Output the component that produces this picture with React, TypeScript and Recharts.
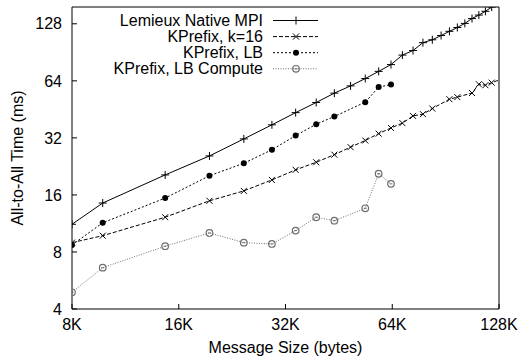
import React from 'react';
import { LineChart, Line, XAxis, YAxis, Legend } from 'recharts';

const FONT = '"Liberation Sans", Arial, Helvetica, sans-serif';

const xTicks = [8192, 16384, 32768, 65536, 131072];
const xTickLabels = ['8K', '16K', '32K', '64K', '128K'];
const yTicks = [4, 8, 16, 32, 64, 128];

const lemieuxSizes = [8192, 10000, 15000, 20000, 25000, 30000, 35000, 40000, 45000, 50000, 55000, 60000, 65000, 70000, 75000, 80000, 85000, 90000, 95000, 100000, 105000, 110000, 115000, 120000, 125000];
const lemieuxTimes = [11.2, 14.5, 20.4, 25.7, 31.6, 37.5, 43.5, 49.2, 55.1, 60.2, 65.8, 71.8, 78.0, 87.5, 92.5, 101.8, 105.4, 111.0, 116.8, 122.4, 128.6, 136.4, 142.3, 149.0, 156.8];

const k16Sizes = [8192, 10000, 15000, 20000, 25000, 30000, 35000, 40000, 45000, 50000, 55000, 60000, 65000, 70000, 75000, 80000, 85000, 95000, 100000, 110000, 115000, 120000, 125000, 135000];
const k16Times = [8.96, 9.75, 12.2, 14.9, 16.8, 19.2, 21.7, 23.8, 26.1, 28.6, 31.0, 33.7, 36.1, 38.3, 41.8, 42.7, 45.7, 51.2, 52.5, 55.2, 61.4, 60.7, 62.6, 65.9];

const lbSizes = [8192, 10000, 15000, 20000, 25000, 30000, 35000, 40000, 45000, 55000, 60000, 65000];
const lbTimes = [8.71, 11.4, 15.4, 20.2, 23.5, 27.7, 32.9, 37.8, 41.5, 49.4, 59.3, 61.2];

const lbcSizes = [8192, 10000, 15000, 20000, 25000, 30000, 35000, 40000, 45000, 55000, 60000, 65000];
const lbcTimes = [4.90, 6.61, 8.58, 10.08, 8.96, 8.82, 10.37, 12.2, 11.7, 13.6, 20.7, 18.3];

const seriesNames = ['Lemieux Native MPI', 'KPrefix, k=16', 'KPrefix, LB', 'KPrefix, LB Compute'];

const zip = (xs: number[], ys: number[]) => xs.map((x, i) => ({ x, t: ys[i] }));
const lemieuxData = zip(lemieuxSizes, lemieuxTimes);
const k16Data = zip(k16Sizes, k16Times);
const lbData = zip(lbSizes, lbTimes);
const lbcData = zip(lbcSizes, lbcTimes);

const GRAY = '#6e6e6e';

const Marker = ({ kind, cx, cy }: { kind: string; cx: number; cy: number }) => {
  if (cx == null || cy == null || isNaN(cx) || isNaN(cy)) return null;
  if (kind === 'plus') {
    return (
      <g>
        <line x1={cx - 4} x2={cx + 4} y1={cy} y2={cy} stroke="#000" strokeWidth={1} />
        <line x1={cx} x2={cx} y1={cy - 4} y2={cy + 4} stroke="#000" strokeWidth={1} />
      </g>
    );
  }
  if (kind === 'cross') {
    return (
      <g>
        <line x1={cx - 3} x2={cx + 3} y1={cy - 3} y2={cy + 3} stroke="#000" strokeWidth={1} />
        <line x1={cx - 3} x2={cx + 3} y1={cy + 3} y2={cy - 3} stroke="#000" strokeWidth={1} />
      </g>
    );
  }
  if (kind === 'dot') {
    return <circle cx={cx} cy={cy} r={3} fill="#000" stroke="none" />;
  }
  return (
    <g>
      <circle cx={cx} cy={cy} r={3.3} fill="none" stroke={GRAY} strokeWidth={1.2} />
      <line x1={cx - 1.5} x2={cx + 1.5} y1={cy} y2={cy} stroke={GRAY} strokeWidth={1} />
    </g>
  );
};

const makeDot = (kind: string) => (p: any) => (
  <Marker key={`${kind}-${p.index}`} kind={kind} cx={p.cx} cy={p.cy} />
);

const legendStyles = [
  { kind: 'plus', color: '#000', dash: undefined },
  { kind: 'cross', color: '#000', dash: '4 2' },
  { kind: 'dot', color: '#000', dash: '2 2' },
  { kind: 'circle', color: GRAY, dash: '1 1.5' },
];

const LegendContent = () => (
  <svg width={519} height={80} style={{ display: 'block' }}>
    {seriesNames.map((name, i) => {
      const y = 20.5 + i * 16.1;
      const st = legendStyles[i];
      return (
        <g key={name}>
          <text x={263} y={y} dy="0.35em" textAnchor="end" fontFamily={FONT} fontSize={16} fill="#000">
            {name}
          </text>
          <line x1={273} x2={318} y1={y} y2={y} stroke={st.color} strokeWidth={1} strokeDasharray={st.dash} />
          <Marker kind={st.kind} cx={296} cy={y} />
        </g>
      );
    })}
  </svg>
);

const tickStyle = { fill: '#000', fontSize: 16, fontFamily: FONT };

export default function App() {
  return (
    <div style={{ position: 'fixed', left: 0, top: 0, width: 519, height: 358, background: '#fff' }}>
      <LineChart width={519} height={358} margin={{ top: 0, right: 0, bottom: 0, left: 0 }}>
        <XAxis
          xAxisId="b"
          type="number"
          dataKey="x"
          scale="log"
          domain={[8192, 131072]}
          allowDataOverflow
          ticks={xTicks}
          interval={0}
          tickFormatter={(v: number) => xTickLabels[xTicks.indexOf(v)] ?? ''}
          height={49}
          tickSize={-5}
          tickMargin={15}
          stroke="#000"
          tick={tickStyle}
          label={{
            value: 'Message Size (bytes)',
            position: 'insideBottom',
            offset: 5,
            style: { fill: '#000', fontSize: 16, fontFamily: FONT },
          }}
        />
        <XAxis
          xAxisId="t"
          orientation="top"
          type="number"
          scale="log"
          domain={[8192, 131072]}
          allowDataOverflow
          ticks={xTicks}
          interval={0}
          height={7}
          tickSize={-5}
          tick={false}
          stroke="#000"
        />
        <YAxis
          yAxisId="l"
          type="number"
          scale="log"
          domain={[4, 157]}
          allowDataOverflow
          ticks={yTicks}
          interval={0}
          width={72}
          tickSize={-5}
          tickMargin={15}
          stroke="#000"
          tick={tickStyle}
          label={{
            value: 'All-to-All Time (ms)',
            content: (props: any) => {
              const vb = props.viewBox || { x: 0, y: 0, width: 72, height: 302 };
              const cx = vb.x + 17;
              const cy = vb.y + vb.height / 2;
              return (
                <text
                  x={cx}
                  y={cy}
                  transform={`rotate(-90 ${cx} ${cy})`}
                  textAnchor="middle"
                  dy="0.35em"
                  fontFamily={FONT}
                  fontSize={16}
                  fill="#000"
                >
                  All-to-All Time (ms)
                </text>
              );
            },
          }}
        />
        <YAxis
          yAxisId="r"
          orientation="right"
          type="number"
          scale="log"
          domain={[4, 157]}
          allowDataOverflow
          ticks={yTicks}
          interval={0}
          width={20}
          tickSize={-5}
          tick={false}
          stroke="#000"
        />
        <Legend
          layout="vertical"
          align="center"
          verticalAlign="middle"
          wrapperStyle={{ left: 0, top: 0, width: 519, height: 80 }}
          content={<LegendContent />}
        />
        <Line
          xAxisId="b"
          yAxisId="l"
          data={lemieuxData}
          dataKey="t"
          name={seriesNames[0]}
          stroke="#000"
          strokeWidth={1}
          dot={makeDot('plus')}
          activeDot={false}
          isAnimationActive={false}
        />
        <Line
          xAxisId="b"
          yAxisId="l"
          data={k16Data}
          dataKey="t"
          name={seriesNames[1]}
          stroke="#000"
          strokeWidth={1}
          strokeDasharray="4 2"
          dot={makeDot('cross')}
          activeDot={false}
          isAnimationActive={false}
        />
        <Line
          xAxisId="b"
          yAxisId="l"
          data={lbData}
          dataKey="t"
          name={seriesNames[2]}
          stroke="#000"
          strokeWidth={1}
          strokeDasharray="2 2"
          dot={makeDot('dot')}
          activeDot={false}
          isAnimationActive={false}
        />
        <Line
          xAxisId="b"
          yAxisId="l"
          data={lbcData}
          dataKey="t"
          name={seriesNames[3]}
          stroke={GRAY}
          strokeWidth={1}
          strokeDasharray="1 1.5"
          dot={makeDot('circle')}
          activeDot={false}
          isAnimationActive={false}
        />
      </LineChart>
    </div>
  );
}
